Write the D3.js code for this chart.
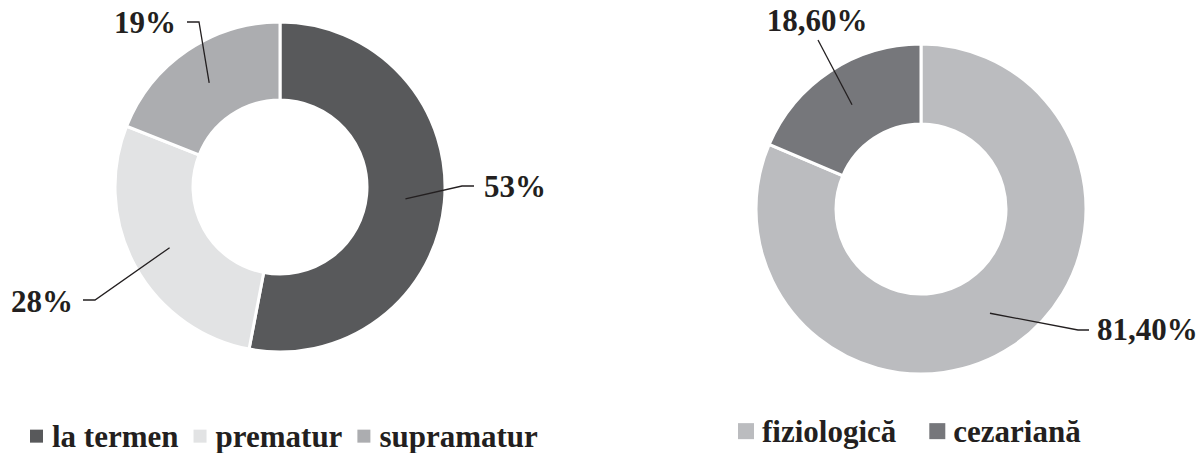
<!DOCTYPE html>
<html>
<head>
<meta charset="utf-8">
<script src="https://cdn.jsdelivr.net/npm/d3@7"></script>
<style>
  body { margin: 0; background: #fff; }
  text { font-family: "Liberation Serif", "Times New Roman", serif; font-weight: bold; fill: #231f20; }
</style>
</head>
<body>
<svg id="chart" width="1199" height="453"></svg>
<script>
// left donut: tipul nasterii dupa termen
let termCats = ["la termen", "prematur", "supramatur"]
let termVals = [53, 28, 19]
let termLabels = ["53%", "28%", "19%"]
let termColors = ["#58595b", "#e2e3e4", "#acadb0"]

// right donut: tipul nasterii
let birthCats = ["fiziologică", "cezariană"]
let birthVals = [81.4, 18.6]
let birthLabels = ["81,40%", "18,60%"]
let birthColors = ["#bbbcbf", "#76777b"]

let svg = d3.select("#chart")

function drawDonut(cfg) {
  let g = svg.append("g")
      .attr("transform", "translate(" + cfg.cx + "," + cfg.cy + ")")

  let pie = d3.pie().sort(null).value(d => d)
  let arc = d3.arc().innerRadius(cfg.inner).outerRadius(cfg.outer)
  let mid = d3.arc().innerRadius((cfg.inner + cfg.outer) / 2).outerRadius((cfg.inner + cfg.outer) / 2)

  let arcs = pie(cfg.values)

  g.selectAll("path")
      .data(arcs)
      .enter().append("path")
      .attr("d", arc)
      .attr("fill", (d, i) => cfg.colors[i])
      .attr("stroke", "#fff")
      .attr("stroke-width", 3)
      .attr("stroke-linejoin", "miter")

  // leader lines + labels (label spots are layout, relative to centre)
  arcs.forEach((d, i) => {
    let c = mid.centroid(d)
    let lp = cfg.leaders[i]
    let pts = [c].concat(lp.pts)
    g.append("path")
        .attr("d", d3.line()(pts))
        .attr("fill", "none")
        .attr("stroke", "#231f20")
        .attr("stroke-width", 1.3)
    g.append("text")
        .attr("x", lp.tx)
        .attr("y", lp.ty)
        .attr("text-anchor", lp.anchor)
        .style("font-size", "31px")
        .text(cfg.labels[i])
  })
}

drawDonut({
  cx: 280, cy: 187, inner: 87, outer: 165,
  values: termVals, colors: termColors, labels: termLabels,
  leaders: [
    { pts: [[182, -1], [194, -1]], tx: 204, ty: 10, anchor: "start" },
    { pts: [[-185, 113], [-197, 113]], tx: -207, ty: 125, anchor: "end" },
    { pts: [[-81, -165], [-93, -165]], tx: -104, ty: -154, anchor: "end" }
  ]
})

drawDonut({
  cx: 921, cy: 209, inner: 85, outer: 165,
  values: birthVals, colors: birthColors, labels: birthLabels,
  leaders: [
    { pts: [[157, 121], [168, 121]], tx: 176, ty: 131, anchor: "start" },
    { pts: [[-103, -169]], tx: -104, ty: -178, anchor: "middle" }
  ]
})

// legends
function drawLegend(cats, colors, x0, pad, gap, sq, y, fs) {
  let lg = svg.append("g")
  let x = x0
  cats.forEach((c, i) => {
    lg.append("rect")
        .attr("x", x)
        .attr("y", y - sq / 2 - fs * 0.35)
        .attr("width", sq)
        .attr("height", sq)
        .attr("fill", colors[i])
    let t = lg.append("text")
        .attr("x", x + sq + pad)
        .attr("y", y)
        .style("font-size", fs + "px")
        .text(c)
    x = x + sq + pad + t.node().getComputedTextLength() + gap
  })
}

drawLegend(termCats, termColors, 30, 9, 15, 13, 447, 31)
drawLegend(birthCats, birthColors, 738, 8, 33, 16, 442, 31)
</script>
</body>
</html>
